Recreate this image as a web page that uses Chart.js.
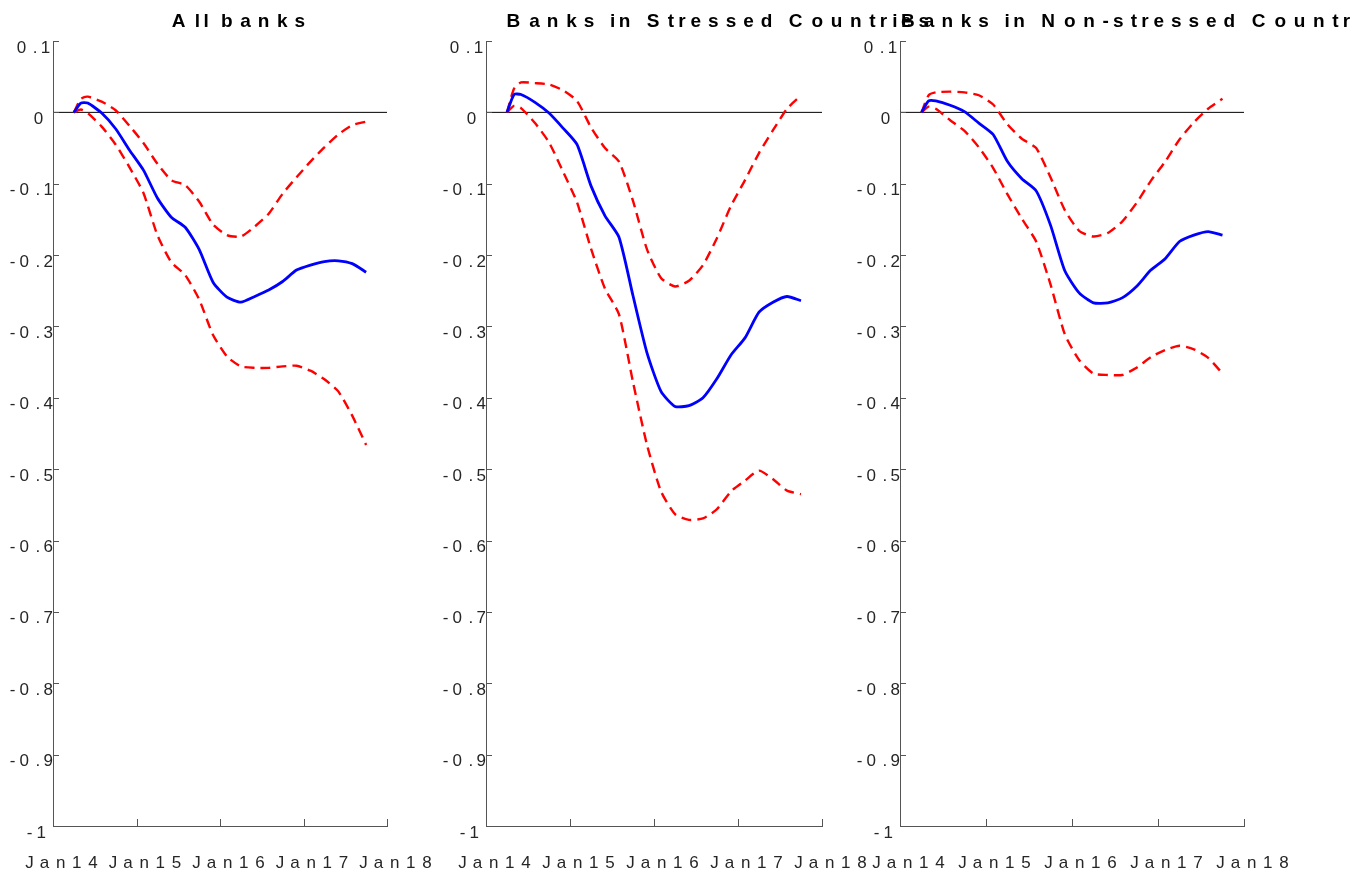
<!DOCTYPE html>
<html>
<head>
<meta charset="utf-8">
<title>Bank lending responses</title>
<script src="https://cdn.jsdelivr.net/npm/chart.js"></script>
<style>
  html, body { margin: 0; padding: 0; background: #fff; }
  #wrap { position: relative; width: 1353px; height: 878px; overflow: hidden; }
  canvas { position: absolute; top: 0; }
</style>
</head>
<body>
<div id="wrap">
  <canvas id="c1" width="440" height="878" style="left:0px"></canvas>
  <canvas id="c2" width="540" height="878" style="left:433px"></canvas>
  <canvas id="c3" width="506" height="878" style="left:847px"></canvas>
</div>
<script>
// months since Jan 2014
const months = [3, 4, 5, 7, 9, 11, 13, 15, 17, 19, 21, 23, 25, 27, 29, 31, 33, 35, 37, 39, 41, 43, 45];

const xTickYears = [2014, 2015, 2016, 2017, 2018];
const xTickLabels = ["Jan14", "Jan15", "Jan16", "Jan17", "Jan18"];
const yTicks = [0.1, 0, -0.1, -0.2, -0.3, -0.4, -0.5, -0.6, -0.7, -0.8, -0.9, -1];
const yTickLabels = ["0.1", "0", "-0.1", "-0.2", "-0.3", "-0.4", "-0.5", "-0.6", "-0.7", "-0.8", "-0.9", "-1"];
const zeroLineX = [2014, 2018];

const titles = ["All banks", "Banks in Stressed Countries", "Banks in Non-stressed Countries"];

// All banks
const allMedian = [0, 0.013, 0.013, -0.001, -0.023, -0.053, -0.081, -0.120, -0.147, -0.161, -0.192, -0.238,
  -0.259, -0.266, -0.258, -0.249, -0.237, -0.221, -0.214, -0.209, -0.208, -0.212, -0.224];
const allUpper = [0, 0.019, 0.022, 0.015, 0.003, -0.019, -0.043, -0.072, -0.095, -0.102, -0.125, -0.157,
  -0.172, -0.174, -0.160, -0.142, -0.114, -0.091, -0.069, -0.049, -0.031, -0.018, -0.013];
const allLower = [0, 0.004, -0.001, -0.020, -0.045, -0.077, -0.113, -0.172, -0.210, -0.228, -0.262, -0.312,
  -0.342, -0.356, -0.358, -0.358, -0.356, -0.355, -0.362, -0.374, -0.391, -0.425, -0.466];

// Banks in stressed countries
const strMedian = [0, 0.025, 0.025, 0.014, -0.001, -0.022, -0.045, -0.103, -0.145, -0.175, -0.257, -0.337,
  -0.391, -0.412, -0.411, -0.400, -0.373, -0.340, -0.316, -0.280, -0.266, -0.258, -0.264];
const strUpper = [0, 0.033, 0.042, 0.041, 0.039, 0.031, 0.016, -0.021, -0.050, -0.069, -0.124, -0.192,
  -0.232, -0.244, -0.236, -0.214, -0.176, -0.131, -0.095, -0.057, -0.025, 0.005, 0.024];
const strLower = [0, 0.009, 0.006, -0.015, -0.042, -0.083, -0.126, -0.191, -0.247, -0.283, -0.378, -0.466,
  -0.531, -0.563, -0.571, -0.569, -0.556, -0.531, -0.516, -0.502, -0.514, -0.530, -0.535];

// Banks in non-stressed countries
const nonMedian = [0, 0.016, 0.016, 0.010, 0.001, -0.015, -0.031, -0.069, -0.093, -0.110, -0.158, -0.222,
  -0.253, -0.267, -0.267, -0.260, -0.244, -0.221, -0.205, -0.181, -0.172, -0.167, -0.172];
const nonUpper = [0, 0.024, 0.028, 0.029, 0.028, 0.024, 0.011, -0.017, -0.037, -0.050, -0.091, -0.137,
  -0.166, -0.174, -0.169, -0.153, -0.127, -0.096, -0.069, -0.038, -0.014, 0.005, 0.019];
const nonLower = [0, 0.008, 0.005, -0.011, -0.026, -0.049, -0.078, -0.115, -0.149, -0.181, -0.241, -0.311,
  -0.347, -0.366, -0.368, -0.368, -0.358, -0.343, -0.333, -0.327, -0.332, -0.344, -0.366];

const FONT = '"Liberation Sans", Arial, Helvetica, sans-serif';

// draws text char by char with widened advances (the exported figure has spread-out lettering)
function stretchText(ctx, str, left, y, k) {
  let x = left;
  for (const ch of str) {
    ctx.fillText(ch, x, y);
    x += ctx.measureText(ch).width * k;
  }
}

const axisText = {
  id: 'axisText',
  afterDraw(chart, args, opts) {
    const ctx = chart.ctx;
    const xs = chart.scales.x, ys = chart.scales.y;
    const area = chart.chartArea;
    ctx.save();
    // inward tick marks
    ctx.strokeStyle = '#555';
    ctx.lineWidth = 1;
    ctx.beginPath();
    yTicks.forEach(v => {
      const py = Math.round(ys.getPixelForValue(v)) + 0.5;
      ctx.moveTo(area.left, py);
      ctx.lineTo(area.left + 6, py);
    });
    xTickYears.forEach(t => {
      const px = Math.round(xs.getPixelForValue(t)) + 0.5;
      ctx.moveTo(px, area.bottom);
      ctx.lineTo(px, area.bottom - 7);
    });
    ctx.stroke();

    ctx.fillStyle = '#262626';
    ctx.font = '17px ' + FONT;
    ctx.textAlign = 'left';
    ctx.textBaseline = 'alphabetic';
    yTicks.forEach((v, i) => {
      const s = yTickLabels[i];
      const w = ctx.measureText(s).width;
      stretchText(ctx, s, area.left - 8 - 1.2 * w, ys.getPixelForValue(v) + 11.5, 1.7);
    });
    xTickYears.forEach((t, i) => {
      const s = xTickLabels[i];
      const w = ctx.measureText(s).width;
      stretchText(ctx, s, xs.getPixelForValue(t) - 0.6 * w, area.bottom + 42, 1.71);
    });

    ctx.fillStyle = '#000';
    ctx.font = 'bold 19px ' + FONT;
    const tw = ctx.measureText(opts.title).width;
    stretchText(ctx, opts.title, (area.left + area.right) / 2 - 0.57 * tw, 27, 1.66);
    ctx.restore();
  }
};

function pts(arr) {
  return months.map((m, i) => ({ x: 2014 + m / 12, y: arr[i] }));
}

function makeChart(id, title, median, upper, lower, padRight) {
  return new Chart(document.getElementById(id), {
    type: 'line',
    data: {
      datasets: [
        { data: pts(median), borderColor: '#0000ff', borderWidth: 2.8, pointRadius: 0, tension: 0.2 },
        { data: pts(upper), borderColor: '#ff0000', borderWidth: 2.4, borderDash: [10, 6], pointRadius: 0, tension: 0.2 },
        { data: pts(lower), borderColor: '#ff0000', borderWidth: 2.4, borderDash: [10, 6], pointRadius: 0, tension: 0.2 },
        { data: zeroLineX.map(x => ({ x: x, y: 0 })), borderColor: '#000', borderWidth: 1, pointRadius: 0 },
      ],
    },
    options: {
      responsive: false,
      animation: false,
      devicePixelRatio: 1,
      layout: { padding: { top: 41, right: padRight, left: 0, bottom: 0 } },
      plugins: {
        legend: { display: false },
        tooltip: { enabled: false },
        axisText: { title: title },
      },
      scales: {
        x: {
          type: 'linear', min: 2014, max: 2018,
          grid: { display: false },
          border: { color: '#555' },
          ticks: { display: false },
          afterFit: s => { s.height = 52; },
        },
        y: {
          min: -1, max: 0.1,
          grid: { display: false },
          border: { color: '#555' },
          ticks: { display: false },
          afterFit: s => { s.width = 53; },
        },
      },
    },
    plugins: [axisText],
  });
}

makeChart('c1', titles[0], allMedian, allUpper, allLower, 53);
makeChart('c2', titles[1], strMedian, strUpper, strLower, 151);
makeChart('c3', titles[2], nonMedian, nonUpper, nonLower, 109);
</script>
</body>
</html>
